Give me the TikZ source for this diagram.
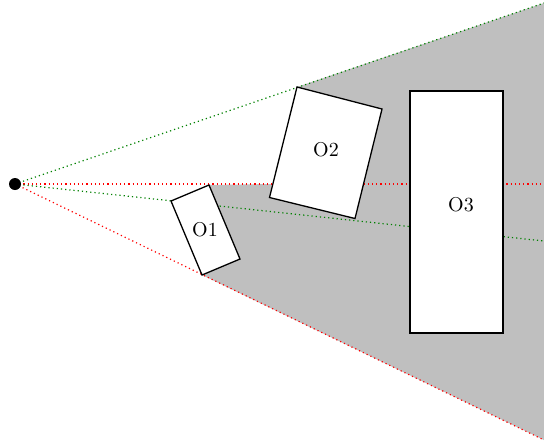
\documentclass[tikz,border=0pt]{standalone}
\begin{document}
\begin{tikzpicture}[x=0.5pt,y=-0.5pt,
  ray/.style={dash pattern=on 0.6pt off 1.5pt,line width=0.6pt},
  obj/.style={draw=black,fill=white,line width=0.65pt,line join=miter},
  lbl/.style={inner sep=0pt}]
\useasboundingbox (0,0) rectangle (544,446);
% points
\coordinate (S) at (15,184);
\coordinate (E1) at (544,3);
\coordinate (E2) at (544,184);
\coordinate (E3) at (544,241);
\coordinate (E4) at (544,440);
% object corners
\coordinate (a1) at (171,201);
\coordinate (a2) at (209,185);
\coordinate (a3) at (240,259);
\coordinate (a4) at (202,275);
\coordinate (b1) at (297,87);
\coordinate (b2) at (382,109);
\coordinate (b3) at (355,218.5);
\coordinate (b4) at (269.5,197.5);
\coordinate (c1) at (410,91);
\coordinate (c3) at (503,333);
% shadow
\fill[black!25] (b1) -- (E1) -- (E4) -- (a4) -- (a2) -- (272.5,184) -- cycle;
% rays
\draw[ray,red] (S) -- (E2);
\draw[ray,red] (S) -- (E4);
\draw[ray,green!50!black] (S) -- (E1);
\draw[ray,green!50!black] (S) -- (E3);
% objects
\draw[obj] (a1) -- (a2) -- (a3) -- (a4) -- cycle;
\draw[obj] (b1) -- (b2) -- (b3) -- (b4) -- cycle;
\draw[obj] (c1) rectangle (c3);
\node[lbl] (L1) at (205,230) {O1};
\node[lbl] (L2) at (326,150) {O2};
\node[lbl] (L3) at (461,205) {O3};
% viewpoint
\node[circle,fill=black,inner sep=0pt,minimum size=6pt] (P) at (S) {};
\end{tikzpicture}
\end{document}
